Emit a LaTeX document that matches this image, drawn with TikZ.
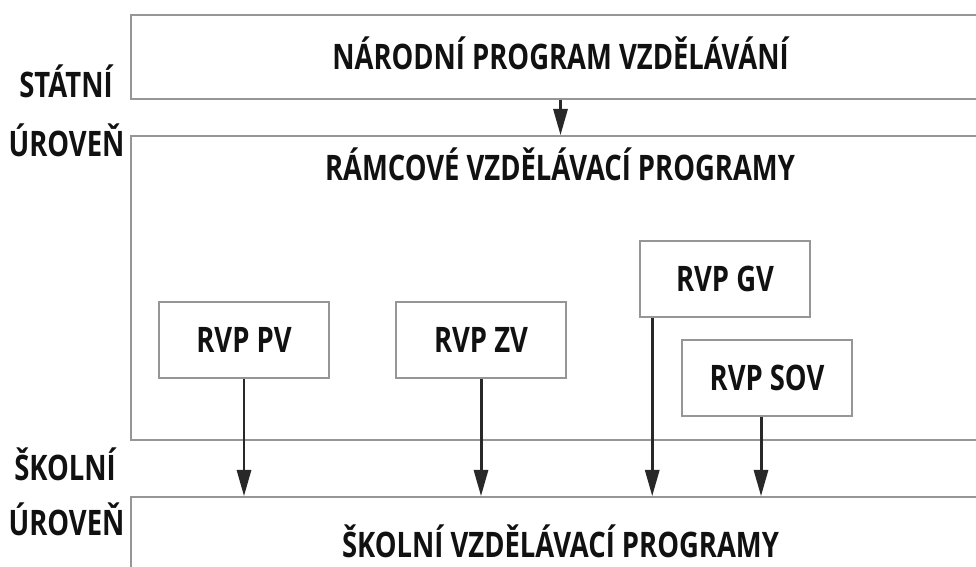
\documentclass[tikz,border=0pt]{standalone}
\usepackage{fontspec}
\setmainfont{Open Sans}[FakeStretch=0.78]
\usepackage{tikz}
\usetikzlibrary{arrows.meta, positioning, calc}
\definecolor{framegray}{RGB}{150, 150, 150}
\definecolor{arrowdark}{RGB}{40, 40, 40}
\definecolor{inkblack}{RGB}{17, 17, 17}

\begin{document}
\begin{tikzpicture}[
  x=0.02cm, y=-0.02cm,
  txt/.style={font=\fontsize{20}{24}\selectfont\bfseries, text=inkblack, text height=14.3pt, text depth=0pt, inner sep=0pt},
  band/.style={draw=framegray, line width=0.9pt, minimum width=17.18cm, minimum height=#1, inner sep=0pt, txt},
  rvpbox/.style={draw=framegray, line width=0.9pt, fill=white, minimum width=3.4cm, minimum height=1.52cm, inner sep=0pt, txt},
  arr/.style={-{Triangle[length=15pt, width=8pt]}, line width=1.7pt, arrowdark},
]
  \clip (0,0) rectangle (976,567);
  \fill[white] (0,0) rectangle (976,567);
  % levels
  \node[txt] (statni) at (66,85) {STÁTNÍ};
  \node[txt] (uroven1) at (66.5,143.5) {ÚROVEŇ};
  \node[txt] (skolni) at (65,468) {ŠKOLNÍ};
  \node[txt] (uroven2) at (66.5,523) {ÚROVEŇ};
  % bands
  \node[band=1.68cm] (nar) at (560.5,57) {NÁRODNÍ PROGRAM VZDĚLÁVÁNÍ};
  \node[band=6.08cm] (ramec) at (560.5,288) {};
  \node[txt] (ramect) at (560,168) {RÁMCOVÉ VZDĚLÁVACÍ PROGRAMY};
  \node[band=1.92cm] (skol) at (560.5,545) {ŠKOLNÍ VZDĚLÁVACÍ PROGRAMY};
  % RVP boxes
  \node[rvpbox] (pv) at (244,340) {RVP PV};
  \node[rvpbox] (zv) at (481,340) {RVP ZV};
  \node[rvpbox] (gv) at (725,279) {RVP GV};
  \node[rvpbox] (sov) at (767,378) {RVP SOV};
  \coordinate (gvout) at ([xshift=0.26cm]gv.south west);
  \coordinate (sovout) at ([xshift=-0.12cm]sov.south);
  % arrows
  \draw[arr] (nar.south) -- (ramec.north);
  \draw[arr] (pv.south) -- (pv.south |- skol.north);
  \draw[arr] (zv.south) -- (zv.south |- skol.north);
  \draw[arr] (gvout) -- (gvout |- skol.north);
  \draw[arr] (sovout) -- (sovout |- skol.north);
\end{tikzpicture}
\end{document}
